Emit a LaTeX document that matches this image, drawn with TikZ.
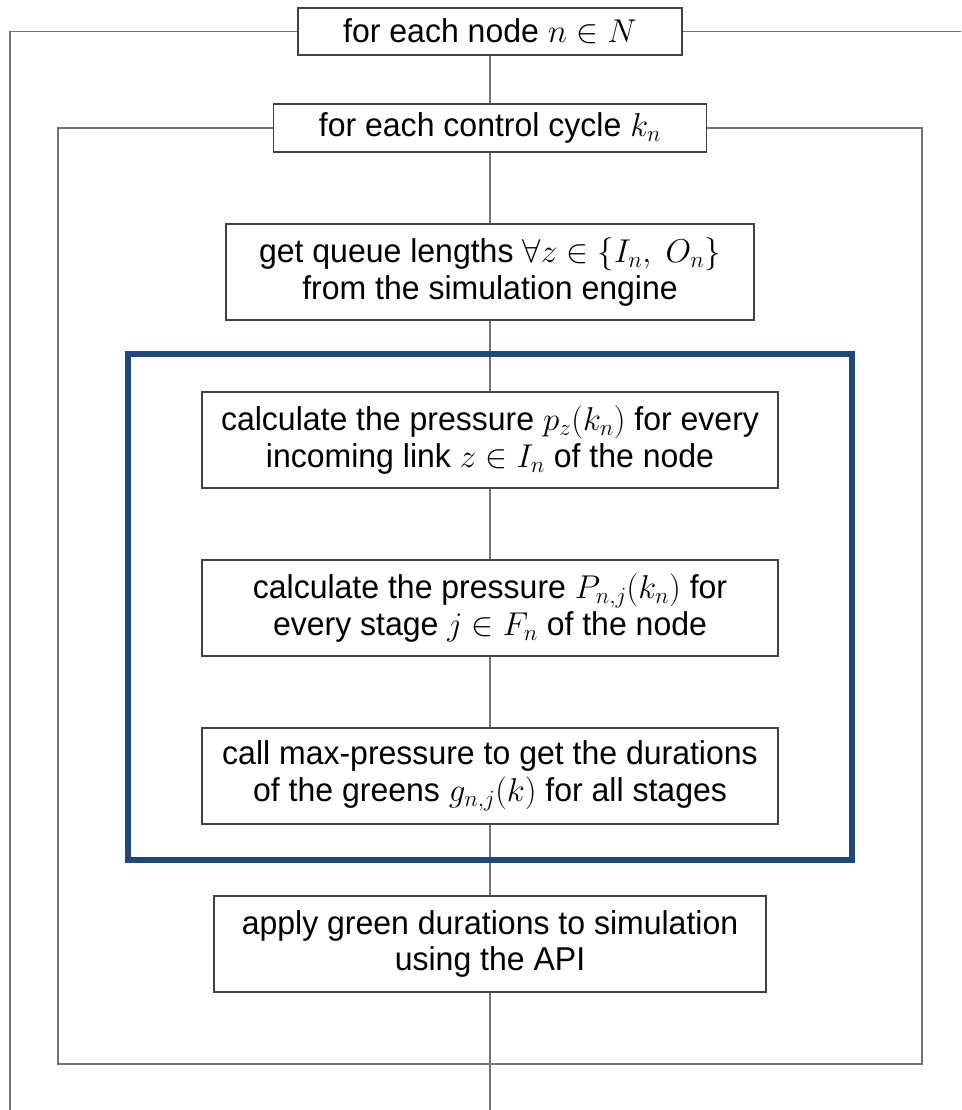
\RequirePackage{fix-cm}
\documentclass[tikz,border=0pt]{standalone}
\usepackage{fontspec}
\setmainfont[FakeStretch=0.97]{Liberation Sans}
\begin{document}
\begin{tikzpicture}[x=1pt,y=1pt,
  every node/.style={font=\fontsize{33}{36.5}\selectfont},
  stepbox/.style={draw=black!75, line width=1.1pt, fill=white, align=center,
    inner sep=0pt, minimum height=#1},
  stepbox/.default=96pt,
  flow/.style={draw=black!55, line width=1.1pt},
  group/.style={draw={rgb,255:red,31;green,73;blue,125}, line width=5.5pt, inner sep=0pt}]
\useasboundingbox (0,0) rectangle (961,1110);

% loop frame corners and ends
\coordinate (oL) at (10,1078.5);
\coordinate (oLb) at (10,0);
\coordinate (oR) at (961,1078.5);
\coordinate (iTL) at (58,982);
\coordinate (iBL) at (58,46);
\coordinate (iBR) at (922,46);
\coordinate (iTR) at (922,982);
\coordinate (bottom) at (490,0);

% connectors go first so the boxes sit on top of them
\draw[flow] (oLb) -- (oL) -- (oR);
\draw[flow] (iTL) -- (iBL) -- (iBR) -- (iTR) -- cycle;
\draw[flow] (490,1078.5) -- (bottom);

% nested loop headers
\node[stepbox=47pt, minimum width=384pt] (b1) at (490,1078.5) {for each node $n\in N$};
\node[stepbox=48pt, minimum width=433pt] (b2) at (490,982) {for each control cycle $k_n$};

% loop body
\node[stepbox, minimum width=528pt] (b3) at (490,838)
  {get queue lengths $\forall z\in\{I_n,\ O_n\}$\\from the simulation engine};
\node[stepbox, minimum width=576pt] (b4) at (490,670)
  {calculate the pressure $p_z(k_n)$ for every\\incoming link $z\in I_n$ of the node};
\node[stepbox, minimum width=576pt] (b5) at (490,502)
  {calculate the pressure $P_{n,j}(k_n)$ for\\every stage $j\in F_n$ of the node};
\node[stepbox, minimum width=576pt] (b6) at (490,334)
  {call max-pressure to get the durations\\of the greens $g_{n,j}(k)$ for all stages};
\node[stepbox, minimum width=552pt] (b7) at (490,166)
  {apply green durations to simulation\\using the API};

% pressure computation block
\node[group, minimum width=724pt, minimum height=506pt] (grp) at (490,503) {};
\end{tikzpicture}
\end{document}
